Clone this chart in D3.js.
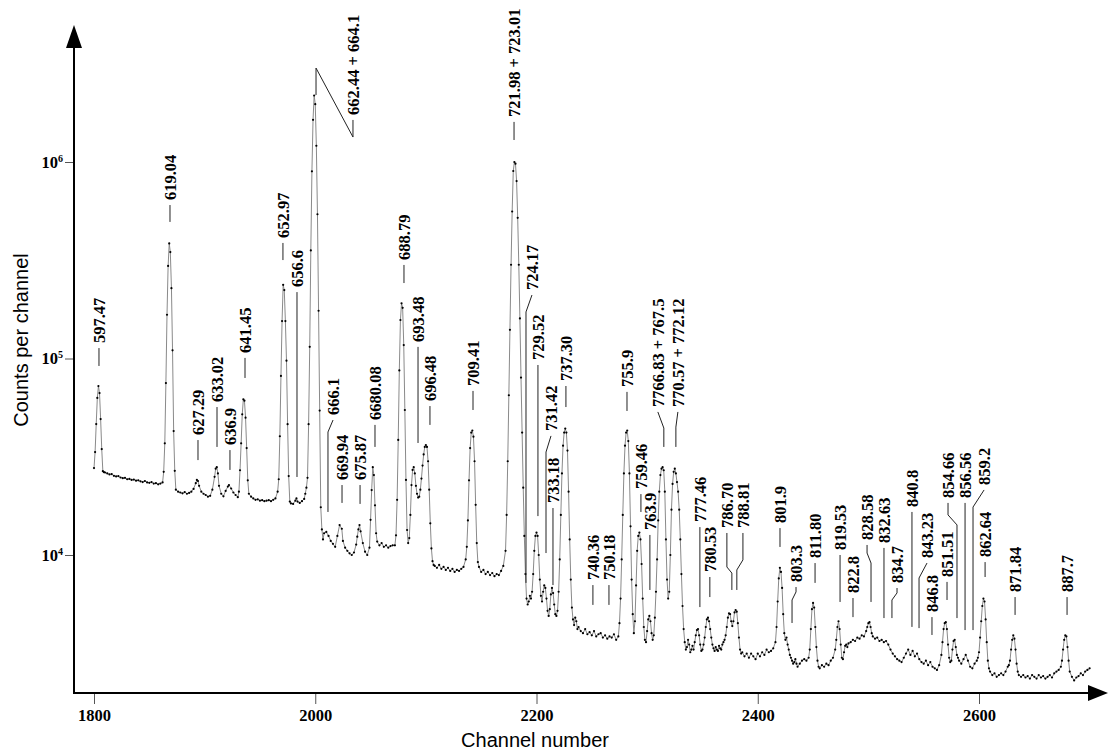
<!DOCTYPE html>
<html>
<head>
<meta charset="utf-8">
<style>
  body { margin: 0; background: #fff; }
  svg { display: block; }
  .num { font-family: "Liberation Serif", "Times New Roman", serif; font-weight: bold; font-size: 16.5px; fill: #000; }
  .title { font-family: "Liberation Sans", Arial, sans-serif; font-size: 20px; fill: #000; }
</style>
</head>
<body>
<svg width="1109" height="754"></svg>
<script src="https://cdn.jsdelivr.net/npm/d3@7"></script>
<script>
// channel, counts per channel
var spectrum = [
  [1800,27700],[1801,33400],[1802,46400],[1803,63000],[1804,72400],[1805,66700],[1806,49200],[1807,34600],[1808,26700],[1809,26400],
  [1810,26300],[1812,26000],[1814,25700],[1816,25800],[1818,25300],[1820,25100],[1822,25200],[1824,24800],[1826,24600],[1828,24700],
  [1830,24300],[1832,24400],[1834,24100],[1836,24200],[1838,23900],[1840,24000],[1842,23700],[1844,23500],[1846,23800],[1848,23400],
  [1850,23300],[1852,23500],[1854,23100],[1856,23200],[1858,22900],[1860,23100],[1862,23400],
  [1863,26500],[1864,37000],[1865,75000],[1866,167000],[1867,296000],[1868,385000],[1869,348000],[1870,228000],[1871,110000],[1872,42700],[1873,26800],[1874,21500],
  [1876,21000],[1878,20800],[1880,20600],[1882,20900],[1884,20500],[1886,20700],[1888,21000],[1890,21700],[1892,23200],[1893,24100],[1894,23800],[1895,22500],
  [1897,21000],[1899,20500],[1901,20200],[1903,19800],[1905,20000],[1907,21500],[1909,25000],[1910,27500],[1911,28000],[1912,26000],[1913,22500],
  [1915,20500],[1917,19900],[1919,21200],[1921,22300],[1922,22700],[1924,21800],[1926,20800],[1928,20200],[1930,19700],
  [1931,21000],[1932,27000],[1933,37000],[1934,52000],[1935,62000],[1936,61000],[1937,50000],[1938,35000],[1939,24000],[1940,20500],
  [1942,19800],[1944,19400],[1946,19100],[1948,19200],[1950,18900],[1952,19000],[1954,18800],[1956,18900],[1958,19000],[1960,18800],[1962,19100],[1964,19400],[1966,21000],
  [1967,24300],[1968,40200],[1969,81500],[1970,155000],[1971,237000],[1972,223000],[1973,155000],[1974,97500],[1975,46300],[1976,25200],[1977,18700],
  [1978,18300],[1980,18200],[1982,18900],[1983,19400],[1984,18700],[1986,18400],[1988,18800],[1990,19300],[1991,20500],[1992,22000],
  [1993,24700],[1994,46300],[1995,114600],[1996,355000],[1997,897000],[1998,1640000],[1999,2180000],[2000,1970000],[2001,1210000],[2002,542000],
  [2003,175000],[2004,54300],[2005,17500],[2006,13500],[2007,12000],[2008,12900],[2010,13100],[2012,12500],[2014,11800],[2016,11400],[2018,11000],
  [2020,12500],[2022,14200],[2024,13600],[2025,11800],[2027,10900],[2029,10500],[2031,10200],[2033,10000],[2035,10300],[2037,11300],[2038,12400],
  [2039,13500],[2040,14200],[2041,13200],[2043,11500],[2045,10400],[2047,10000],[2049,10900],[2050,15100],[2051,21400],[2052,28000],[2053,25500],
  [2054,17900],[2055,12900],[2056,11700],[2058,11200],[2060,11500],[2062,11000],[2064,11200],[2066,10900],[2068,11100],[2070,11200],[2072,11200],
  [2073,12600],[2074,19100],[2075,38500],[2076,87000],[2077,157000],[2078,191000],[2079,181000],[2080,117000],[2081,54700],[2082,24100],[2083,13400],
  [2084,11500],[2085,12200],[2086,16000],[2087,22700],[2088,27100],[2089,28000],[2090,26000],[2091,22500],[2092,20500],[2093,19600],[2094,19800],
  [2095,21500],[2096,24500],[2097,28500],[2098,32500],[2099,35500],[2100,36300],[2101,35500],[2102,30000],[2103,21500],[2104,14500],[2105,10800],
  [2106,9300],[2107,8900],[2108,8800],[2110,8600],[2112,8900],[2114,8500],[2116,8700],[2118,8400],[2120,8600],[2122,8300],[2124,8500],[2126,8200],
  [2128,8400],[2130,8300],[2132,8500],[2134,8700],[2136,9500],[2137,11000],[2138,15000],[2139,24000],[2140,35000],[2141,42000],[2142,43000],
  [2143,40000],[2144,30000],[2145,18000],[2146,11500],[2147,9200],[2148,8700],[2150,8200],[2152,8400],[2154,8000],[2156,8200],[2158,7900],
  [2160,8100],[2162,7800],[2164,8000],[2166,7900],[2168,8300],[2170,8800],[2172,10500],
  [2173,16000],[2174,30000],[2175,65000],[2176,140000],[2177,300000],[2178,560000],[2179,900000],[2180,1000000],[2181,980000],[2182,800000],
  [2183,520000],[2184,300000],[2185,160000],[2186,80000],[2187,42000],[2188,22000],[2189,12500],[2190,8000],[2191,6000],[2192,5600],[2193,5800],
  [2194,6200],[2195,6000],[2196,6500],[2197,8000],[2198,10500],[2199,12500],[2200,13000],[2201,12500],[2202,10000],[2203,7500],[2204,6200],
  [2205,5800],[2206,6500],[2207,7000],[2208,6800],[2209,6000],[2210,5200],[2211,4900],[2212,5300],[2213,6300],[2214,6800],[2215,6400],[2216,5600],
  [2217,5000],[2218,4900],[2219,5200],[2220,6500],[2221,9500],[2222,16000],[2223,26000],[2224,36000],[2225,42000],[2226,44000],[2227,42000],
  [2228,34000],[2229,21000],[2230,12000],[2231,7500],[2232,5400],[2233,4700],[2234,4400],[2235,4800],[2236,4600],[2237,4200],[2238,4300],
  [2240,4100],[2242,4000],[2244,4200],[2246,3950],[2248,4050],[2250,3900],[2252,4100],[2254,3850],[2256,3950],[2258,4000],[2260,3800],[2262,3900],
  [2264,3750],[2266,3850],[2268,3800],[2270,3950],[2272,3700],[2274,3850],[2275,4500],[2276,6000],[2277,9500],[2278,16000],[2279,26000],
  [2280,36000],[2281,42000],[2282,43000],[2283,38000],[2284,26000],[2285,14000],[2286,7500],[2287,5000],[2288,4000],[2289,4600],[2290,7000],
  [2291,10500],[2292,12500],[2293,13000],[2294,12000],[2295,9000],[2296,6000],[2297,4300],[2298,3700],[2299,3600],[2300,4100],[2301,4700],
  [2302,4900],[2303,4600],[2304,4000],[2305,3700],[2306,3900],[2307,4800],[2308,6500],[2309,9500],[2310,15000],[2311,21000],[2312,25500],
  [2313,27500],[2314,28000],[2315,27000],[2316,21000],[2317,12000],[2318,7500],[2319,6000],[2320,6500],[2321,10000],[2322,17000],[2323,23000],
  [2324,26500],[2325,27500],[2326,26000],[2327,23500],[2328,21000],[2329,17000],[2330,12000],[2331,8000],[2332,5500],[2333,4200],[2334,3600],
  [2335,3300],[2336,3400],[2337,3700],[2338,3500],[2339,3200],[2340,3300],[2341,3450],[2342,3300],[2343,3600],[2344,3900],[2345,4150],[2346,4200],
  [2347,3900],[2348,3500],[2349,3250],[2350,3300],[2351,3500],[2352,3800],[2353,4300],[2354,4700],[2355,4800],[2356,4600],[2357,4200],[2358,3800],
  [2359,3500],[2360,3350],[2361,3250],[2362,3400],[2363,3300],[2364,3250],[2365,3450],[2366,3350],[2367,3300],[2368,3500],[2369,3600],[2370,3700],
  [2371,3900],[2372,4300],[2373,4800],[2374,5050],[2375,5000],[2376,4600],[2377,4350],[2378,4600],[2379,5100],[2380,5250],[2381,5150],[2382,4500],
  [2383,3800],[2384,3300],[2385,3150],[2386,3200],[2388,3050],[2390,3150],[2392,3000],[2394,3150],[2396,3050],[2398,2950],[2400,3150],[2402,3050],
  [2404,3200],[2406,3100],[2408,3300],[2410,3200],[2412,3250],[2414,3350],[2416,3600],[2417,4300],[2418,5800],[2419,7600],[2420,8600],[2421,8200],
  [2422,6800],[2423,5000],[2424,4000],[2425,3700],[2426,3800],[2427,3500],[2428,3300],[2429,3100],[2430,3000],[2431,2900],[2432,2800],[2433,2850],
  [2434,2950],[2435,2800],[2436,2700],[2438,2800],[2440,2900],[2442,2950],[2444,2900],[2446,3000],[2447,3300],[2448,4200],[2449,5300],[2450,5700],
  [2451,5400],[2452,4300],[2453,3400],[2454,2900],[2455,2700],[2456,2650],[2458,2750],[2460,2700],[2462,2800],[2464,2750],[2466,2900],[2468,3000],
  [2470,3300],[2471,3700],[2472,4300],[2473,4600],[2474,4200],[2475,3500],[2476,3000],[2477,2950],[2478,3200],[2479,3450],[2480,3500],[2481,3400],
  [2482,3550],[2484,3600],[2486,3700],[2488,3650],[2490,3800],[2492,3750],[2494,3900],[2496,3850],[2498,4100],[2499,4300],[2500,4500],[2501,4550],
  [2502,4300],[2503,4000],[2504,3850],[2506,3750],[2508,3800],[2510,3650],[2512,3700],[2514,3600],[2516,3650],[2518,3500],[2520,3300],[2522,3150],
  [2524,3050],[2526,2950],[2528,2900],[2530,2850],[2532,3000],[2534,3150],[2536,3300],[2538,3100],[2540,3250],[2542,3050],[2544,3150],[2546,2950],
  [2548,2850],[2550,2800],[2552,2900],[2554,2750],[2556,2850],[2558,2700],[2560,2650],[2562,2600],[2564,2750],[2566,3100],[2567,3600],[2568,4200],
  [2569,4500],[2570,4550],[2571,4200],[2572,3500],[2573,3000],[2574,2850],[2575,2900],[2576,3300],[2577,3650],[2578,3700],[2579,3400],[2580,3100],
  [2581,3000],[2582,2900],[2584,2800],[2586,2950],[2588,3100],[2590,2900],[2592,2700],[2594,2650],[2596,2800],[2598,2900],[2599,3000],[2600,3200],
  [2601,3800],[2602,4600],[2603,5500],[2604,6000],[2605,5800],[2606,4700],[2607,3600],[2608,2900],[2609,2650],[2610,2550],[2612,2450],[2614,2500],
  [2616,2400],[2618,2450],[2620,2500],[2622,2450],[2624,2550],[2626,2700],[2627,2750],[2628,2900],[2629,3300],[2630,3700],[2631,3900],[2632,3750],
  [2633,3300],[2634,2800],[2635,2550],[2636,2450],[2638,2400],[2640,2450],[2642,2380],[2644,2420],[2646,2350],[2648,2450],[2650,2400],[2652,2350],
  [2654,2450],[2656,2380],[2658,2420],[2660,2350],[2662,2400],[2664,2450],[2666,2380],[2668,2500],[2670,2550],[2672,2600],[2674,2700],[2675,2900],
  [2676,3300],[2677,3700],[2678,3900],[2679,3850],[2680,3400],[2681,2900],[2682,2550],[2684,2400],[2686,2300],[2688,2380],[2690,2420],[2692,2500],
  [2694,2450],[2696,2550],[2698,2600],[2700,2650]
];

var xTicks = [1800, 2000, 2200, 2400, 2600];
var yTicks = [1e4, 1e5, 1e6];

// peak energies; leader path from under the text down to the peak, as [channel, log10 counts]
var peakLabels = [
  {t: "597.47", p: [[1804.5, 5.053], [1804.5, 4.962]]},
  {t: "619.04", p: [[1868.7, 5.781], [1868.7, 5.695]]},
  {t: "627.29", p: [[1894, 4.585], [1894, 4.483]]},
  {t: "633.02", p: [[1911.2, 4.753], [1911.2, 4.550]]},
  {t: "636.9", p: [[1922.9, 4.534], [1922.9, 4.433]]},
  {t: "641.45", p: [[1936.5, 5.003], [1936.5, 4.901]]},
  {t: "652.97", p: [[1970.8, 5.588], [1970.8, 5.501]]},
  {t: "656.6", p: [[1983.5, 5.338], [1983.5, 4.397]]},
  {t: "662.44 + 664.1", p: [[2034.1, 6.214], [2034.1, 6.127], [2000.7, 6.478], [2000.7, 6.341]]},
  {t: "666.1", p: [[2016.1, 4.687], [2011.5, 4.626], [2011.5, 4.219]]},
  {t: "669.94", p: [[2024.2, 4.356], [2024.2, 4.265]]},
  {t: "675.87", p: [[2040.5, 4.356], [2040.5, 4.260]]},
  {t: "6680.08", p: [[2054, 4.662], [2054, 4.550]]},
  {t: "688.79", p: [[2080.2, 5.476], [2080.2, 5.384]]},
  {t: "693.48", p: [[2092.9, 5.059], [2092.9, 4.570]]},
  {t: "696.48", p: [[2103.7, 4.758], [2103.7, 4.662]]},
  {t: "709.41", p: [[2142.6, 4.835], [2142.6, 4.738]]},
  {t: "721.98 + 723.01", p: [[2179.7, 6.204], [2179.7, 6.112]]},
  {t: "724.17", p: [[2195.9, 5.323], [2190.5, 5.237], [2190.5, 3.858]]},
  {t: "729.52", p: [[2201.3, 4.967], [2201.3, 4.198]]},
  {t: "731.42", p: [[2213.1, 4.606], [2208.6, 4.524], [2208.6, 4.010]]},
  {t: "733.18", p: [[2214.9, 4.239], [2214.9, 3.847]]},
  {t: "737.30", p: [[2226.6, 4.860], [2226.6, 4.753]]},
  {t: "740.36", p: [[2251, 3.847], [2251, 3.746]]},
  {t: "750.18", p: [[2265.5, 3.847], [2265.5, 3.746]]},
  {t: "755.9", p: [[2281.8, 4.830], [2281.8, 4.733]]},
  {t: "759.46", p: [[2294.4, 4.310], [2294.4, 4.219]]},
  {t: "763.9", p: [[2302.5, 4.102], [2302.5, 3.822]]},
  {t: "7766.83 + 767.5", p: [[2309.7, 4.728], [2315.1, 4.646], [2315.1, 4.550]]},
  {t: "770.57 + 772.12", p: [[2327.8, 4.728], [2326, 4.651], [2326, 4.550]]},
  {t: "777.46", p: [[2347.7, 4.142], [2347.7, 3.735]]},
  {t: "780.53", p: [[2356.7, 3.888], [2356.7, 3.786]]},
  {t: "786.70", p: [[2372.1, 4.112], [2372.1, 3.939], [2376.6, 3.908], [2376.6, 3.822]]},
  {t: "788.81", p: [[2386.6, 4.112], [2386.6, 3.975], [2381.1, 3.924], [2381.1, 3.822]]},
  {t: "801.9", p: [[2420.1, 4.137], [2420.1, 4.041]]},
  {t: "803.3", p: [[2434.6, 3.837], [2434.6, 3.812], [2431, 3.771], [2431, 3.654]]},
  {t: "811.80", p: [[2451.8, 3.959], [2451.8, 3.858]]},
  {t: "819.53", p: [[2474.4, 4.0], [2474.4, 3.761]]},
  {t: "822.8", p: [[2486.1, 3.781], [2486.1, 3.684]]},
  {t: "828.58", p: [[2498.8, 4.051], [2498.8, 4.010], [2502.4, 3.959], [2502.4, 3.761]]},
  {t: "832.63", p: [[2514.1, 4.036], [2514.1, 3.679]]},
  {t: "834.7", p: [[2525.9, 3.832], [2525.9, 3.807], [2521.3, 3.771], [2521.3, 3.679]]},
  {t: "840.8", p: [[2539.4, 4.219], [2539.4, 3.634]]},
  {t: "843.23", p: [[2553, 3.959], [2545.8, 3.883], [2545.8, 3.628]]},
  {t: "846.8", p: [[2557.5, 3.684], [2557.5, 3.593]]},
  {t: "851.51", p: [[2571.1, 3.863], [2571.1, 3.771]]},
  {t: "854.66", p: [[2572, 4.265], [2572, 4.204], [2580.1, 4.153], [2580.1, 3.679]]},
  {t: "856.56", p: [[2587.4, 4.265], [2587.4, 3.618]]},
  {t: "859.2", p: [[2604.6, 4.331], [2594.6, 4.244], [2594.6, 3.618]]},
  {t: "862.64", p: [[2605.5, 3.964], [2605.5, 3.888]]},
  {t: "871.84", p: [[2632.6, 3.786], [2632.6, 3.695]]},
  {t: "887.7", p: [[2679.6, 3.786], [2679.6, 3.695]]}
];

var svg = d3.select("svg"),
    width = +svg.attr("width"),
    height = +svg.attr("height");

var axisX = 74, axisY = 693;

var x = d3.scaleLinear().domain([1800, 2600]).range([94, 979]);
var y = d3.scaleLog().domain([1e4, 1e6]).range([555, 162]);
var lv = function(v) { return y(Math.pow(10, v)); };

// x axis ticks
var gx = svg.append("g")
    .attr("transform", "translate(0," + axisY + ")")
    .call(d3.axisBottom(x).tickValues(xTicks).tickSize(11).tickPadding(5).tickFormat(d3.format("d")));
gx.select(".domain").remove();
gx.selectAll(".tick line").attr("stroke", "#555");
gx.selectAll(".tick text").attr("class", "num").attr("font-family", null).attr("font-size", null);

// y axis ticks, 10^n labels
var gy = svg.append("g")
    .attr("transform", "translate(" + axisX + ",0)")
    .call(d3.axisLeft(y).tickValues(yTicks).tickSize(9).tickFormat(""));
gy.select(".domain").remove();
gy.selectAll(".tick line").attr("stroke", "#555");
var yl = gy.selectAll(".tick").append("text")
    .attr("class", "num")
    .attr("x", -11)
    .attr("dy", "0.32em")
    .attr("text-anchor", "end");
yl.append("tspan").text("10");
yl.append("tspan")
    .attr("font-size", "10px")
    .attr("dy", "-6")
    .text(function(d) { return Math.round(Math.log10(d)); });

// axis lines with arrow heads
svg.append("line")
    .attr("x1", axisX).attr("y1", axisY + 1)
    .attr("x2", axisX).attr("y2", 40)
    .attr("stroke", "#000").attr("stroke-width", 2);
svg.append("path")
    .attr("d", "M" + axisX + ",25L" + (axisX - 8) + ",48L" + (axisX + 8) + ",48Z")
    .attr("fill", "#000");
svg.append("line")
    .attr("x1", axisX - 1).attr("y1", axisY)
    .attr("x2", 1095).attr("y2", axisY)
    .attr("stroke", "#000").attr("stroke-width", 2);
svg.append("path")
    .attr("d", "M1108," + axisY + "L1088," + (axisY - 8) + "L1088," + (axisY + 8) + "Z")
    .attr("fill", "#000");

// spectrum
var line = d3.line()
    .x(function(d) { return x(d[0]); })
    .y(function(d) { return y(d[1]); });

svg.append("path")
    .datum(spectrum)
    .attr("fill", "none")
    .attr("stroke", "#8a8a8a")
    .attr("stroke-width", 1)
    .attr("d", line);

svg.append("g")
    .selectAll("circle")
    .data(spectrum)
  .enter().append("circle")
    .attr("cx", function(d) { return x(d[0]); })
    .attr("cy", function(d) { return y(d[1]); })
    .attr("r", 1.1)
    .attr("fill", "#000");

// peak labels
var lab = svg.append("g");
peakLabels.forEach(function(d) {
  var pts = d.p.map(function(q) { return [x(q[0]), lv(q[1])]; });
  lab.append("path")
      .attr("d", d3.line()(pts))
      .attr("fill", "none")
      .attr("stroke", "#222")
      .attr("stroke-width", 1);
  lab.append("text")
      .attr("class", "num")
      .attr("transform", "translate(" + pts[0][0] + "," + (pts[0][1] - 5) + ") rotate(-90)")
      .attr("dy", "0.35em")
      .text(d.t);
});

// axis titles
svg.append("text")
    .attr("class", "title")
    .attr("text-anchor", "middle")
    .attr("transform", "translate(21,340) rotate(-90)")
    .attr("dy", "0.35em")
    .text("Counts per channel");
svg.append("text")
    .attr("class", "title")
    .attr("text-anchor", "middle")
    .attr("x", 535)
    .attr("y", 747)
    .text("Channel number");
</script>
</body>
</html>
